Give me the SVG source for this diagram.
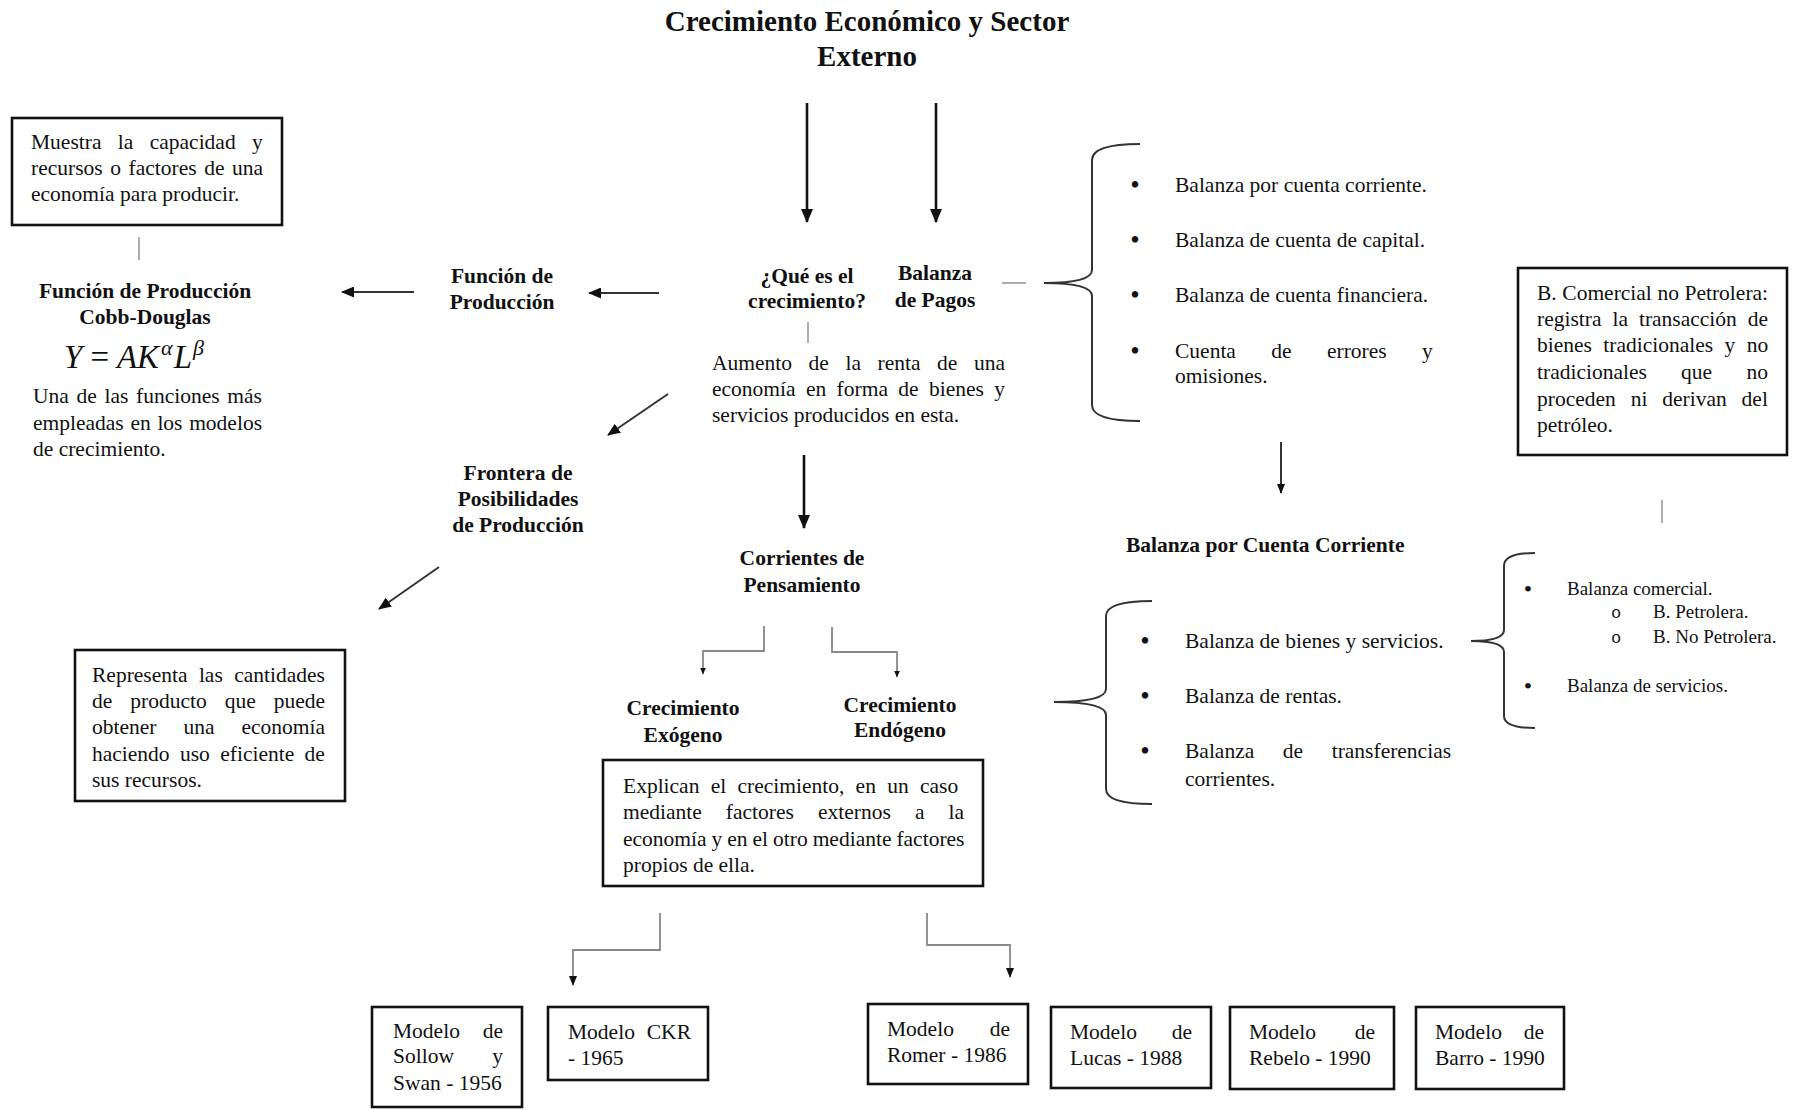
<svg xmlns="http://www.w3.org/2000/svg" width="1796" height="1110" viewBox="0 0 1796 1110">
<style>
text{font-family:"Liberation Serif","Times New Roman",serif;fill:#111;}
.t{font-size:21.5px;}
.b{font-size:21.5px;font-weight:bold;text-anchor:middle;}
.s{font-size:19px;}
.bu{font-size:27px;text-anchor:middle;}
.bus{font-size:24px;text-anchor:middle;}
.box{fill:#fff;stroke:#111;stroke-width:2.6;}
.big{stroke:#111;stroke-width:2.6;fill:none;}
.mid{stroke:#333;stroke-width:2;fill:none;}
.thin{stroke:#888;stroke-width:1.8;fill:none;}
.tick{stroke:#999;stroke-width:1.6;fill:none;}
.brace{stroke:#333;stroke-width:2;fill:none;}
</style>
<defs>
<marker id="ah" viewBox="0 0 14 12" refX="13" refY="6" markerWidth="14" markerHeight="12" orient="auto" markerUnits="userSpaceOnUse"><path d="M0,0 L14,6 L0,12 z" fill="#111"/></marker>
<marker id="am" viewBox="0 0 13 11" refX="12" refY="5.5" markerWidth="13" markerHeight="11" orient="auto" markerUnits="userSpaceOnUse"><path d="M0,0 L13,5.5 L0,11 z" fill="#111"/></marker>
<marker id="as" viewBox="0 0 10 8" refX="9" refY="4" markerWidth="10" markerHeight="8" orient="auto" markerUnits="userSpaceOnUse"><path d="M0,0 L10,4 L0,8 z" fill="#111"/></marker>
<marker id="ax" viewBox="0 0 7 6" refX="6.5" refY="3" markerWidth="7" markerHeight="6" orient="auto" markerUnits="userSpaceOnUse"><path d="M0,0 L7,3 L0,6 z" fill="#111"/></marker>
</defs>
<rect width="1796" height="1110" fill="#fff"/>

<g id="connectors">
<line class="big" x1="807" y1="103" x2="807" y2="222" marker-end="url(#ah)"/>
<line class="big" x1="936" y1="103" x2="936" y2="222" marker-end="url(#ah)"/>
<line class="mid" x1="659" y1="293" x2="589" y2="293" marker-end="url(#am)"/>
<line class="mid" x1="414" y1="292" x2="342" y2="292" marker-end="url(#am)"/>
<line class="mid" x1="668" y1="394" x2="608" y2="435" marker-end="url(#am)"/>
<line class="mid" x1="439" y1="567" x2="379" y2="609" marker-end="url(#am)"/>
<line class="big" x1="804" y1="455" x2="804" y2="528" marker-end="url(#ah)"/>
<line class="mid" x1="1281" y1="442" x2="1281" y2="493" marker-end="url(#as)"/>
<polyline class="thin" points="764,626 764,651 703,651 703,674" marker-end="url(#ax)"/>
<polyline class="thin" points="832,627 832,652 897,652 897,677" marker-end="url(#ax)"/>
<polyline class="thin" points="660,913 660,950 573,950 573,985" marker-end="url(#as)"/>
<polyline class="thin" points="927,913 927,945 1010,945 1010,977" marker-end="url(#as)"/>
<line class="tick" x1="139" y1="237" x2="139" y2="260"/>
<line class="tick" x1="808" y1="322" x2="808" y2="343"/>
<line class="tick" x1="1662" y1="500" x2="1662" y2="523"/>
<line class="tick" x1="1002" y1="283" x2="1026" y2="283"/>
<path class="brace" d="M1140,144 Q1092,144 1092,160 L1092,270 Q1092,283 1044,283 Q1092,283 1092,296 L1092,405 Q1092,421 1140,421"/>
<path class="brace" d="M1152,601 Q1106,601 1106,616 L1106,689 Q1106,702 1054,702 Q1106,702 1106,715 L1106,789 Q1106,804 1152,804"/>
<path class="brace" d="M1535,553 Q1504,553 1504,566 L1504,630 Q1504,641 1471,641 Q1504,641 1504,652 L1504,716 Q1504,728 1535,728"/>
</g>

<g id="title">
<text x="867" y="31" style="font-size:29px;font-weight:bold;text-anchor:middle">Crecimiento Económico y Sector</text>
<text x="867" y="66" style="font-size:29px;font-weight:bold;text-anchor:middle">Externo</text>
</g>

<g id="que-es">
<text class="b" x="807" y="283">¿Qué es el</text>
<text class="b" x="807" y="308">crecimiento?</text>
</g>

<g id="balanza-pagos">
<text class="b" x="935" y="280">Balanza</text>
<text class="b" x="935" y="307">de Pagos</text>
</g>

<g id="aumento">
<text class="t" x="712" y="370" style="word-spacing:11.2px">Aumento de la renta de una</text>
<text class="t" x="712" y="396" style="word-spacing:5px">economía en forma de bienes y</text>
<text class="t" x="712" y="422">servicios producidos en esta.</text>
</g>

<g id="funcion-produccion">
<text class="b" x="502" y="283">Función de</text>
<text class="b" x="502" y="309">Producción</text>
</g>

<g id="muestra-box">
<rect class="box" x="12" y="118" width="270" height="107"/>
<text class="t" x="31" y="149" style="word-spacing:11px">Muestra la capacidad y</text>
<text class="t" x="31" y="175" style="word-spacing:2.2px">recursos o factores de una</text>
<text class="t" x="31" y="201">economía para producir.</text>
</g>

<g id="cobb-douglas">
<text class="b" x="145" y="298">Función de Producción</text>
<text class="b" x="145" y="324">Cobb-Douglas</text>
<text x="64" y="368" style="font-size:33px;font-style:italic">Y <tspan style="font-style:normal">=</tspan> AK<tspan style="font-size:22px" dx="2" dy="-13">α</tspan><tspan dx="1" dy="13">L</tspan><tspan style="font-size:22px" dx="1" dy="-13">β</tspan></text>
<text class="t" x="33" y="403" style="word-spacing:2.3px">Una de las funciones más</text>
<text class="t" x="33" y="430" style="word-spacing:1.3px">empleadas en los modelos</text>
<text class="t" x="33" y="456">de crecimiento.</text>
</g>

<g id="frontera">
<text class="b" x="518" y="480">Frontera de</text>
<text class="b" x="518" y="506">Posibilidades</text>
<text class="b" x="518" y="532">de Producción</text>
</g>

<g id="representa-box">
<rect class="box" x="75" y="650" width="270" height="151"/>
<text class="t" x="92" y="682" style="word-spacing:6px">Representa las cantidades</text>
<text class="t" x="92" y="708" style="word-spacing:12.6px">de producto que puede</text>
<text class="t" x="92" y="734" style="word-spacing:21.6px">obtener una economía</text>
<text class="t" x="92" y="761" style="word-spacing:5px">haciendo uso eficiente de</text>
<text class="t" x="92" y="787">sus recursos.</text>
</g>

<g id="corrientes">
<text class="b" x="802" y="565">Corrientes de</text>
<text class="b" x="802" y="592">Pensamiento</text>
</g>

<g id="exogeno">
<text class="b" x="683" y="715">Crecimiento</text>
<text class="b" x="683" y="742">Exógeno</text>
</g>

<g id="endogeno">
<text class="b" x="900" y="712">Crecimiento</text>
<text class="b" x="900" y="737">Endógeno</text>
</g>

<g id="explican-box">
<rect class="box" x="603" y="760" width="380" height="126"/>
<text class="t" x="623" y="793" style="word-spacing:5.9px">Explican el crecimiento, en un caso</text>
<text class="t" x="623" y="819" style="word-spacing:18.7px">mediante factores externos a la</text>
<text class="t" x="623" y="846" style="word-spacing:-0.4px">economía y en el otro mediante factores</text>
<text class="t" x="623" y="872">propios de ella.</text>
</g>

<g id="lista-balanza-pagos">
<text class="bu" x="1135" y="194">•</text>
<text class="t" x="1175" y="192">Balanza por cuenta corriente.</text>
<text class="bu" x="1135" y="249">•</text>
<text class="t" x="1175" y="247">Balanza de cuenta de capital.</text>
<text class="bu" x="1135" y="304">•</text>
<text class="t" x="1175" y="302">Balanza de cuenta financiera.</text>
<text class="bu" x="1135" y="360">•</text>
<text class="t" x="1175" y="358" style="word-spacing:30px">Cuenta de errores y</text>
<text class="t" x="1175" y="383">omisiones.</text>
</g>

<g id="comercial-box">
<rect class="box" x="1518" y="268" width="269" height="187"/>
<text class="t" x="1537" y="300" style="word-spacing:0.2px">B. Comercial no Petrolera:</text>
<text class="t" x="1537" y="326" style="word-spacing:5.6px">registra la transacción de</text>
<text class="t" x="1537" y="352" style="word-spacing:6px">bienes tradicionales y no</text>
<text class="t" x="1537" y="379" style="word-spacing:28.9px">tradicionales que no</text>
<text class="t" x="1537" y="406" style="word-spacing:9.5px">proceden ni derivan del</text>
<text class="t" x="1537" y="432">petróleo.</text>
</g>

<g id="cuenta-corriente">
<text x="1126" y="552" style="font-size:21.5px;font-weight:bold">Balanza por Cuenta Corriente</text>
</g>

<g id="lista-cuenta-corriente">
<text class="bu" x="1145" y="650">•</text>
<text class="t" x="1185" y="648">Balanza de bienes y servicios.</text>
<text class="bu" x="1145" y="705">•</text>
<text class="t" x="1185" y="703">Balanza de rentas.</text>
<text class="bu" x="1145" y="760">•</text>
<text class="t" x="1185" y="758" style="word-spacing:23.2px">Balanza de transferencias</text>
<text class="t" x="1185" y="786">corrientes.</text>
</g>

<g id="lista-bienes-servicios">
<text class="bus" x="1528" y="597">•</text>
<text class="s" x="1567" y="595">Balanza comercial.</text>
<text x="1616" y="618" style="font-family:'Liberation Mono',monospace;font-size:17px;text-anchor:middle">o</text>
<text class="s" x="1653" y="618">B. Petrolera.</text>
<text x="1616" y="643" style="font-family:'Liberation Mono',monospace;font-size:17px;text-anchor:middle">o</text>
<text class="s" x="1653" y="643">B. No Petrolera.</text>
<text class="bus" x="1528" y="694">•</text>
<text class="s" x="1567" y="692">Balanza de servicios.</text>
</g>

<g id="solow">
<rect class="box" x="372" y="1007" width="150" height="100"/>
<text class="t" x="393" y="1038" style="word-spacing:17.4px">Modelo de</text>
<text class="t" x="393" y="1063" style="word-spacing:32.9px">Sollow y</text>
<text class="t" x="393" y="1090">Swan - 1956</text>
</g>

<g id="ckr">
<rect class="box" x="548" y="1007" width="160" height="73"/>
<text class="t" x="568" y="1039" style="word-spacing:6.5px">Modelo CKR</text>
<text class="t" x="568" y="1065">- 1965</text>
</g>

<g id="romer">
<rect class="box" x="868" y="1004" width="160" height="80"/>
<text class="t" x="887" y="1036" style="word-spacing:30.4px">Modelo de</text>
<text class="t" x="887" y="1062">Romer - 1986</text>
</g>

<g id="lucas">
<rect class="box" x="1051" y="1007" width="160" height="81"/>
<text class="t" x="1070" y="1039" style="word-spacing:29.4px">Modelo de</text>
<text class="t" x="1070" y="1065">Lucas - 1988</text>
</g>

<g id="rebelo">
<rect class="box" x="1230" y="1007" width="164" height="82"/>
<text class="t" x="1249" y="1039" style="word-spacing:33.4px">Modelo de</text>
<text class="t" x="1249" y="1065">Rebelo - 1990</text>
</g>

<g id="barro">
<rect class="box" x="1416" y="1007" width="148" height="82"/>
<text class="t" x="1435" y="1039" style="word-spacing:16.4px">Modelo de</text>
<text class="t" x="1435" y="1065">Barro - 1990</text>
</g>
</svg>
